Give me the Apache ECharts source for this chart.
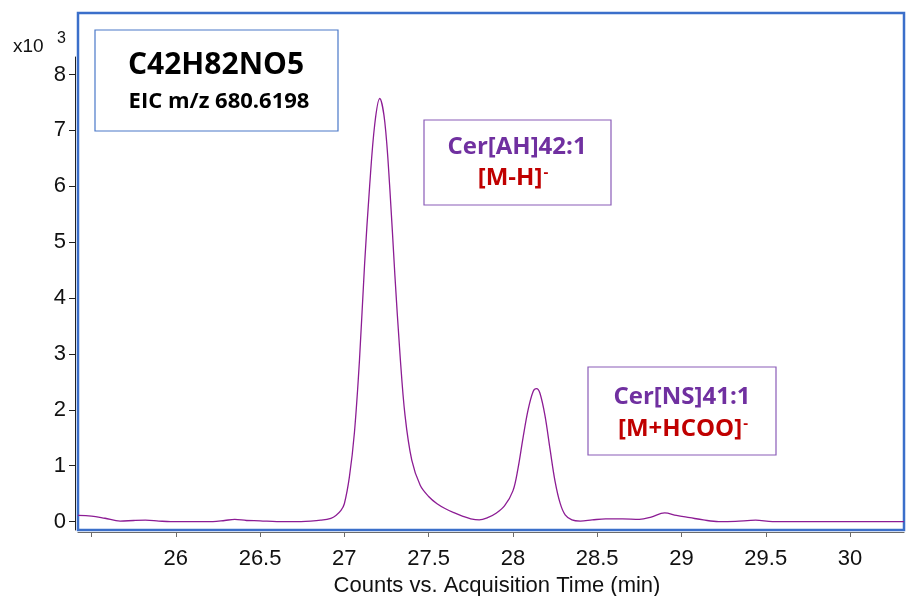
<!DOCTYPE html>
<html>
<head>
<meta charset="utf-8">
<script src="https://cdn.jsdelivr.net/npm/echarts@6/dist/echarts.min.js"></script>
<style>
  html, body { margin: 0; padding: 0; background: #fff; }
  #chart { width: 906px; height: 596px; }
</style>
</head>
<body>
<div id="chart"></div>
<script>
// retention time (min)
const times = [
  25.42, 25.5, 25.58, 25.67, 25.75, 25.82, 25.9, 25.97, 26.1, 26.22,
  26.29, 26.35, 26.42, 26.5, 26.6, 26.7, 26.8, 26.86, 26.92, 26.95,
  26.98, 27.0, 27.03, 27.06, 27.09, 27.12, 27.15, 27.18, 27.21, 27.24,
  27.27, 27.3, 27.33, 27.36, 27.4, 27.45, 27.5, 27.55, 27.6, 27.65,
  27.7, 27.75, 27.8, 27.85, 27.9, 27.95, 28.0, 28.03, 28.06, 28.09,
  28.12, 28.14, 28.16, 28.19, 28.22, 28.25, 28.28, 28.31, 28.35, 28.4,
  28.47, 28.55, 28.65, 28.75, 28.82, 28.9, 28.97, 29.05, 29.13, 29.22,
  29.32, 29.44, 29.54, 29.7, 30.0, 30.32
];
// counts, x10^3
const counts = [
  0.11, 0.1, 0.06, 0.01, 0.02, 0.025, 0.01, 0, 0, 0,
  0.02, 0.04, 0.02, 0.015, 0, 0, 0.01, 0.025, 0.06, 0.11,
  0.2, 0.32, 0.8, 1.6, 2.9, 4.6, 6.0, 7.1, 7.57, 7.15,
  5.95, 4.4, 3.0, 1.9, 1.1, 0.65, 0.45, 0.32, 0.23, 0.16,
  0.1, 0.05, 0.03, 0.07, 0.15, 0.28, 0.55, 0.95, 1.5, 2.0,
  2.33, 2.38, 2.3, 1.9, 1.3, 0.72, 0.33, 0.12, 0.03, 0.01,
  0.03, 0.05, 0.05, 0.04, 0.08, 0.155, 0.11, 0.07, 0.03, 0,
  0.005, 0.025, 0, 0, 0, 0
];
const xTicks = [25.5, 26, 26.5, 27, 27.5, 28, 28.5, 29, 29.5, 30];
const xLabels = [26, 26.5, 27, 27.5, 28, 28.5, 29, 29.5, 30];
const yTicks = [0, 1, 2, 3, 4, 5, 6, 7, 8];

const FRAME = "#3b6fca";
const TRACE = "#8c1c94";
const PURPLE = "#7030a0";
const RED = "#c00000";
const AXIS_FONT = "Liberation Sans";
const BOX_FONT = "Open Sans";

const chart = echarts.init(document.getElementById("chart"), null, { renderer: "canvas" });

function box(x, y, w, h, stroke) {
  return {
    type: "rect",
    shape: { x: x, y: y, width: w, height: h },
    style: { fill: "#fff", stroke: stroke, lineWidth: 1.2 },
    z: 10
  };
}
function label(x, y, text, size, color, rich) {
  return {
    type: "text",
    x: x,
    y: y,
    z: 11,
    style: {
      text: text,
      fill: color,
      font: "bold " + size + "px '" + BOX_FONT + "'",
      align: "center",
      verticalAlign: "middle",
      rich: rich
    }
  };
}
const supRich = (color, size) => ({
  m: { fill: color, fontSize: size, fontWeight: "bold", fontFamily: BOX_FONT },
  s: { fill: color, fontSize: 15, fontWeight: "bold", fontFamily: BOX_FONT, verticalAlign: "top", padding: [0, 0, 10, 1] }
});

chart.setOption({
  animation: false,
  grid: [
    { left: 78, right: 2, top: 13, bottom: 66, show: true, borderColor: FRAME, borderWidth: 2.5, backgroundColor: "transparent", outerBoundsMode: "none" },
    { left: 78, right: 2, top: 57, bottom: 66, outerBoundsMode: "none" }
  ],
  xAxis: [
    {
      type: "value",
      gridIndex: 0,
      min: 25.42,
      max: 30.32,
      offset: 2,
      axisLine: { show: true, onZero: false, lineStyle: { color: "#6b6b6b", width: 1.2 } },
      axisTick: { show: true, length: 5, customValues: xTicks, lineStyle: { color: "#6b6b6b" } },
      axisLabel: { customValues: xLabels, color: "#111", fontSize: 22, fontFamily: AXIS_FONT, margin: 16 },
      splitLine: { show: false },
      name: "Counts vs. Acquisition Time (min)",
      nameLocation: "middle",
      nameGap: 40,
      nameTextStyle: { color: "#111", fontSize: 22, fontFamily: AXIS_FONT, padding: [0, 0, 0, 12] }
    },
    { type: "value", gridIndex: 1, min: 25.42, max: 30.32, show: false }
  ],
  yAxis: [
    { type: "value", gridIndex: 0, min: -0.15, max: 9.1, show: false, splitLine: { show: false } },
    {
      type: "value",
      gridIndex: 1,
      min: -0.15,
      max: 8.313,
      offset: 3,
      axisLine: { show: true, onZero: false, lineStyle: { color: "#222", width: 1 } },
      axisTick: { show: true, length: 6, customValues: yTicks, lineStyle: { color: "#222" } },
      axisLabel: { customValues: yTicks, color: "#111", fontSize: 22, fontFamily: AXIS_FONT, margin: 9 },
      splitLine: { show: false }
    }
  ],
  series: [
    {
      type: "line",
      xAxisIndex: 0,
      yAxisIndex: 0,
      data: times.map((t, i) => [t, counts[i]]),
      smooth: 0.35,
      showSymbol: false,
      lineStyle: { color: TRACE, width: 1.3 },
      z: 5
    }
  ],
  graphic: [
    { type: "text", x: 13, y: 37, style: { text: "x10", fill: "#111", font: "19px '" + AXIS_FONT + "'" } },
    { type: "text", x: 57, y: 31, style: { text: "3", fill: "#111", font: "16px '" + AXIS_FONT + "'" } },
    box(95, 30, 243, 101, "#4a78c8"),
    label(216, 65, "C42H82NO5", 30, "#000"),
    label(219, 102, "EIC m/z 680.6198", 22, "#000"),
    box(424, 120, 187, 85, "#8a5cb8"),
    label(517, 147, "Cer[AH]42:1", 24, PURPLE),
    label(513, 178, "{m|[M-H]}{s|-}", 24, RED, supRich(RED, 24)),
    box(588, 367, 188, 88, "#8a5cb8"),
    label(682, 397, "Cer[NS]41:1", 24, PURPLE),
    label(683, 429, "{m|[M+HCOO]}{s|-}", 24, RED, supRich(RED, 24))
  ]
});
</script>
</body>
</html>
